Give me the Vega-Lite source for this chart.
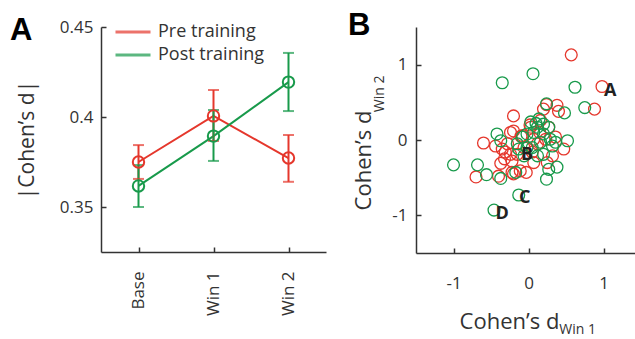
{
  "$schema": "https://vega.github.io/schema/vega-lite/v6.json",
  "padding": {"left": 10, "top": 10, "right": 0, "bottom": 0},
  "bounds": "flush",
  "spacing": 90,
  "config": {
    "view": {"stroke": null},
    "font": "Open Sans",
    "axis": {"grid": false, "domainColor": "#333", "domainWidth": 1.5, "tickColor": "#333", "tickWidth": 1.5, "tickSize": -5, "labelColor": "#333", "labelFontSize": 17, "labelFont": "Open Sans", "titleFont": "Open Sans", "titleFontWeight": "normal", "titleColor": "#333"}
  },
  "resolve": {"scale": {"color": "independent"}, "legend": {"color": "independent"}},
  "hconcat": [
    {
      "width": 225,
      "height": 225,
      "title": {"text": "A", "anchor": "start", "frame": "group", "orient": "top", "font": "Liberation Sans", "fontSize": 31, "fontWeight": "bold", "color": "#000", "dx": -91, "dy": 53, "offset": 0, "baseline": "alphabetic"},
      "data": {"values": [
        {"group": "Pre training", "cond": "Base", "mean": 0.375, "lo": 0.3656, "hi": 0.3844},
        {"group": "Pre training", "cond": "Win 1", "mean": 0.4006, "lo": 0.3867, "hi": 0.415},
        {"group": "Pre training", "cond": "Win 2", "mean": 0.3772, "lo": 0.364, "hi": 0.39},
        {"group": "Post training", "cond": "Base", "mean": 0.3617, "lo": 0.350, "hi": 0.3733},
        {"group": "Post training", "cond": "Win 1", "mean": 0.3894, "lo": 0.3756, "hi": 0.4039},
        {"group": "Post training", "cond": "Win 2", "mean": 0.4194, "lo": 0.4033, "hi": 0.4356}
      ]},
      "encoding": {
        "x": {"field": "cond", "type": "nominal", "sort": ["Base", "Win 1", "Win 2"], "scale": {"type": "point", "padding": 0.5},
              "axis": {"title": null, "labelAngle": -90, "labelPadding": 24}},
        "color": {"field": "group", "type": "nominal", "scale": {"domain": ["Pre training", "Post training"], "range": ["#e5372c", "#189a4b"]},
                  "legend": {"orient": "none", "legendX": 23, "legendY": -4, "title": null, "symbolType": "M-2.5,0H2.5", "symbolSize": 196, "symbolStrokeWidth": 3, "labelFontSize": 18, "labelFont": "Open Sans", "labelColor": "#333", "labelOffset": 16, "rowPadding": 5}}
      },
      "layer": [
        {"mark": {"type": "line", "strokeWidth": 2},
         "encoding": {"y": {"field": "mean", "type": "quantitative", "title": "|Cohen’s d|", "scale": {"domain": [0.325, 0.45], "nice": false, "zero": false},
                            "axis": {"values": [0.35, 0.4, 0.45], "format": "~g", "labelPadding": 13, "titleFontSize": 21, "titleX": -68, "titleBaseline": "alphabetic"}}}},
        {"mark": {"type": "rule", "strokeWidth": 2},
         "encoding": {"y": {"field": "lo", "type": "quantitative", "title": "|Cohen’s d|"}, "y2": {"field": "hi"}}},
        {"mark": {"type": "tick", "size": 11, "thickness": 2},
         "encoding": {"y": {"field": "lo", "type": "quantitative", "title": "|Cohen’s d|"}}},
        {"mark": {"type": "tick", "size": 11, "thickness": 2},
         "encoding": {"y": {"field": "hi", "type": "quantitative", "title": "|Cohen’s d|"}}},
        {"mark": {"type": "point", "shape": "circle", "size": 130, "strokeWidth": 2, "filled": false, "opacity": 1},
         "encoding": {"y": {"field": "mean", "type": "quantitative", "title": "|Cohen’s d|"}}}
      ]
    },
    {
      "width": 225,
      "height": 226,
      "title": {"text": "B", "anchor": "start", "frame": "group", "orient": "top", "font": "Liberation Sans", "fontSize": 31, "fontWeight": "bold", "color": "#000", "dx": -68, "dy": 39, "offset": 0, "baseline": "alphabetic"},
      "layer": [
        {
          "data": {"values": [
            {"group": "Pre", "win1": 0.57, "win2": 1.13},
            {"group": "Pre", "win1": 0.98, "win2": 0.71},
            {"group": "Pre", "win1": 0.88, "win2": 0.41},
            {"group": "Pre", "win1": -0.20, "win2": 0.32},
            {"group": "Pre", "win1": -0.60, "win2": -0.04},
            {"group": "Pre", "win1": -0.70, "win2": -0.49},
            {"group": "Pre", "win1": 0.24, "win2": 0.47},
            {"group": "Pre", "win1": 0.38, "win2": 0.46},
            {"group": "Pre", "win1": 0.40, "win2": 0.38},
            {"group": "Pre", "win1": 0.20, "win2": 0.41},
            {"group": "Pre", "win1": -0.40, "win2": -0.48},
            {"group": "Pre", "win1": -0.20, "win2": -0.45},
            {"group": "Pre", "win1": -0.03, "win2": -0.43},
            {"group": "Pre", "win1": -0.37, "win2": -0.31},
            {"group": "Pre", "win1": -0.35, "win2": -0.12},
            {"group": "Pre", "win1": -0.28, "win2": -0.05},
            {"group": "Pre", "win1": -0.20, "win2": 0.12},
            {"group": "Pre", "win1": 0.03, "win2": 0.17},
            {"group": "Pre", "win1": 0.07, "win2": 0.01},
            {"group": "Pre", "win1": 0.05, "win2": -0.16},
            {"group": "Pre", "win1": 0.07, "win2": -0.30},
            {"group": "Pre", "win1": -0.06, "win2": -0.10},
            {"group": "Pre", "win1": -0.15, "win2": -0.19},
            {"group": "Pre", "win1": 0.32, "win2": -0.21},
            {"group": "Pre", "win1": 0.47, "win2": -0.12},
            {"group": "Pre", "win1": 0.23, "win2": 0.01},
            {"group": "Pre", "win1": 0.27, "win2": 0.17},
            {"group": "Pre", "win1": 0.16, "win2": 0.26},
            {"group": "Pre", "win1": -0.24, "win2": -0.19},
            {"group": "Pre", "win1": -0.44, "win2": -0.08},
            {"group": "Pre", "win1": -0.31, "win2": -0.16},
            {"group": "Pre", "win1": -0.11, "win2": -0.41},
            {"group": "Pre", "win1": 0.36, "win2": 0.04},
            {"group": "Pre", "win1": -0.10, "win2": 0.05},
            {"group": "Pre", "win1": 0.12, "win2": -0.05},
            {"group": "Pre", "win1": -0.22, "win2": -0.43},
            {"group": "Pre", "win1": 0.15, "win2": 0.10},
            {"group": "Pre", "win1": 0.25, "win2": -0.30},
            {"group": "Pre", "win1": -0.32, "win2": -0.25},
            {"group": "Pre", "win1": 0.02, "win2": 0.20},
            {"group": "Pre", "win1": -0.24, "win2": 0.10},
            {"group": "Pre", "win1": -0.08, "win2": 0.06},
            {"group": "Pre", "win1": -0.22, "win2": -0.28},
            {"group": "Post", "win1": -0.35, "win2": 0.76},
            {"group": "Post", "win1": 0.06, "win2": 0.88},
            {"group": "Post", "win1": 0.62, "win2": 0.70},
            {"group": "Post", "win1": 0.75, "win2": 0.43},
            {"group": "Post", "win1": 0.24, "win2": 0.48},
            {"group": "Post", "win1": 0.48, "win2": 0.36},
            {"group": "Post", "win1": -1.00, "win2": -0.33},
            {"group": "Post", "win1": -0.68, "win2": -0.33},
            {"group": "Post", "win1": -0.56, "win2": -0.46},
            {"group": "Post", "win1": -0.37, "win2": -0.51},
            {"group": "Post", "win1": -0.17, "win2": -0.43},
            {"group": "Post", "win1": 0.24, "win2": -0.52},
            {"group": "Post", "win1": 0.38, "win2": -0.36},
            {"group": "Post", "win1": 0.27, "win2": -0.39},
            {"group": "Post", "win1": 0.52, "win2": -0.01},
            {"group": "Post", "win1": -0.13, "win2": -0.73},
            {"group": "Post", "win1": -0.46, "win2": -0.93},
            {"group": "Post", "win1": -0.42, "win2": 0.08},
            {"group": "Post", "win1": -0.37, "win2": -0.01},
            {"group": "Post", "win1": -0.15, "win2": -0.05},
            {"group": "Post", "win1": -0.08, "win2": 0.04},
            {"group": "Post", "win1": -0.02, "win2": 0.08},
            {"group": "Post", "win1": 0.03, "win2": 0.24},
            {"group": "Post", "win1": 0.14, "win2": 0.28},
            {"group": "Post", "win1": 0.20, "win2": 0.21},
            {"group": "Post", "win1": 0.27, "win2": 0.17},
            {"group": "Post", "win1": 0.12, "win2": 0.17},
            {"group": "Post", "win1": 0.07, "win2": 0.10},
            {"group": "Post", "win1": 0.20, "win2": 0.08},
            {"group": "Post", "win1": 0.29, "win2": 0.01},
            {"group": "Post", "win1": 0.16, "win2": -0.03},
            {"group": "Post", "win1": 0.32, "win2": -0.08},
            {"group": "Post", "win1": 0.20, "win2": -0.19},
            {"group": "Post", "win1": 0.12, "win2": -0.21},
            {"group": "Post", "win1": -0.02, "win2": -0.10},
            {"group": "Post", "win1": -0.13, "win2": -0.12},
            {"group": "Post", "win1": -0.06, "win2": -0.21},
            {"group": "Post", "win1": 0.05, "win2": -0.10},
            {"group": "Post", "win1": 0.36, "win2": -0.03},
            {"group": "Post", "win1": 0.10, "win2": 0.22}
          ]},
          "mark": {"type": "point", "shape": "circle", "size": 140, "strokeWidth": 1.3, "filled": false, "opacity": 1},
          "encoding": {
            "x": {"field": "win1", "type": "quantitative", "scale": {"domain": [-1.5, 1.5], "nice": false, "zero": false},
                  "axis": {"values": [-1, 0, 1], "labelExpr": "datum.value", "labelPadding": 27, "title": "Cohen’s d", "titleFontSize": 22, "titleX": 93, "titleY": 75, "titleBaseline": "alphabetic", "titleAlign": "center"}},
            "y": {"field": "win2", "type": "quantitative", "scale": {"domain": [-1.5, 1.5], "nice": false, "zero": false},
                  "axis": {"values": [-1, 0, 1], "labelExpr": "datum.value", "labelPadding": 14, "title": "Cohen’s d", "titleFontSize": 22, "titleX": -46, "titleY": 133, "titleBaseline": "alphabetic", "titleAlign": "center"}},
            "color": {"field": "group", "type": "nominal", "scale": {"domain": ["Pre", "Post"], "range": ["#e5372c", "#189a4b"]}, "legend": null}
          }
        },
        {
          "data": {"values": [
            {"name": "A", "win1": 1.09, "win2": 0.67},
            {"name": "B", "win1": -0.02, "win2": -0.18},
            {"name": "C", "win1": -0.05, "win2": -0.75},
            {"name": "D", "win1": -0.35, "win2": -0.97}
          ]},
          "mark": {"type": "text", "font": "Open Sans", "fontWeight": "bold", "fontSize": 18, "color": "#222", "align": "center", "baseline": "middle", "dy": 1},
          "encoding": {
            "x": {"field": "win1", "type": "quantitative"},
            "y": {"field": "win2", "type": "quantitative"},
            "text": {"field": "name"}
          }
        },
        {
          "data": {"values": [{"sub": "Win 1"}]},
          "mark": {"type": "text", "fontSize": 14, "color": "#333", "align": "left", "baseline": "alphabetic"},
          "encoding": {
            "x": {"datum": 0.41, "type": "quantitative"},
            "y": {"datum": -2.57, "type": "quantitative"},
            "text": {"field": "sub"}
          }
        },
        {
          "data": {"values": [{"sub": "Win 2"}]},
          "mark": {"type": "text", "fontSize": 14, "color": "#333", "align": "left", "baseline": "alphabetic", "angle": 270},
          "encoding": {
            "x": {"datum": -1.93, "type": "quantitative"},
            "y": {"datum": 0.37, "type": "quantitative"},
            "text": {"field": "sub"}
          }
        }
      ]
    }
  ]
}
